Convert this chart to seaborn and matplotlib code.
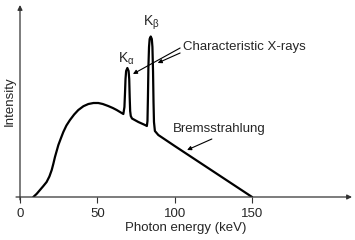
import matplotlib
matplotlib.use("Agg")
import matplotlib.pyplot as plt
import seaborn as sns
import pandas as pd

# Spectrum (keV, relative intensity)
energy = [8.6, 10.8, 12.9, 15.0, 17.2, 19.0, 20.5, 21.6, 22.6, 23.7, 24.8, 26.5, 28, 30,
          32.3, 35, 37.7, 41, 44.2, 47.5, 50.6, 53.5, 57, 60, 62.5, 66.8,
          67.5, 67.9, 68.2, 68.6, 69.4, 70.2, 70.6, 70.9, 71.2, 71.6, 72.4,
          76.5, 80.8, 82.0, 82.4, 82.7, 83.0, 83.4, 83.8, 84.5, 85.2, 85.6, 86.0,
          86.3, 86.6, 87.2, 89.4, 100, 125, 150]
intensity = [0, 3.2, 7, 10.8, 15, 20.5, 27, 33.5, 40, 46, 52, 59, 65, 71.5,
             77, 82.5, 87, 90.8, 93, 94, 94, 93, 91, 89, 87, 83,
             90, 105, 118, 126, 129, 126, 118, 100, 86, 81, 78.5,
             75, 72, 71, 76, 100, 130, 150, 158, 160.5, 158, 150, 125,
             95, 75, 66, 62, 51, 25.5, 0]
xticks = [0, 50, 100, 150]

sns.set_theme(style="white")
plt.rcParams['font.family'] = ['Liberation Sans', 'DejaVu Sans']

fig = plt.figure(figsize=(3.55, 2.4), dpi=100)
ax = fig.add_axes([20/355, 43/240, 332/355, 192/240])
df = pd.DataFrame({"energy": energy, "intensity": intensity})
sns.lineplot(data=df, x="energy", y="intensity", sort=False, color="black",
             linewidth=1.6, ax=ax)

ax.set_xlim(0, 214.6)
ax.set_ylim(0, 192)
for s in ax.spines.values():
    s.set_visible(False)

# axes with arrowheads
ax.annotate("", xy=(1, 0), xytext=(-0.012, 0), xycoords="axes fraction",
            arrowprops=dict(arrowstyle="-|>", color="#333333", lw=0.9,
                            mutation_scale=7, shrinkA=0, shrinkB=0),
            annotation_clip=False)
ax.annotate("", xy=(0, 1), xytext=(0, -0.015), xycoords="axes fraction",
            arrowprops=dict(arrowstyle="-|>", color="#333333", lw=0.9,
                            mutation_scale=7, shrinkA=0, shrinkB=0),
            annotation_clip=False)

ax.set_xticks(xticks)
ax.set_xticklabels([str(t) for t in xticks])
ax.set_yticks([])
ax.tick_params(axis="x", direction="out", length=4, width=0.8, color="#333333",
               labelsize=9.5, pad=4, bottom=True)
ax.set_xlabel("Photon energy (keV)", fontsize=9.5, labelpad=1)
ax.set_ylabel("Intensity", fontsize=9.5, labelpad=3)

ax.text(69, 138, r"K$_\mathregular{α}$", fontsize=10, ha="center", va="center")
ax.text(84.7, 174, r"K$_\mathregular{β}$", fontsize=10, ha="center", va="center")
ax.text(105.5, 150, "Characteristic X-rays", fontsize=9.5, ha="left", va="center")
ax.text(99, 68, "Bremsstrahlung", fontsize=9.5, ha="left", va="center")

arrow = dict(arrowstyle="-|>", color="black", lw=0.8, mutation_scale=6,
             shrinkA=0, shrinkB=0)
ax.annotate("", xy=(73, 123), xytext=(103.5, 149), arrowprops=arrow)
ax.annotate("", xy=(89, 134), xytext=(103.5, 144), arrowprops=arrow)
ax.annotate("", xy=(108, 47), xytext=(124, 58), arrowprops=arrow)

fig.savefig("out.png", dpi=100)
